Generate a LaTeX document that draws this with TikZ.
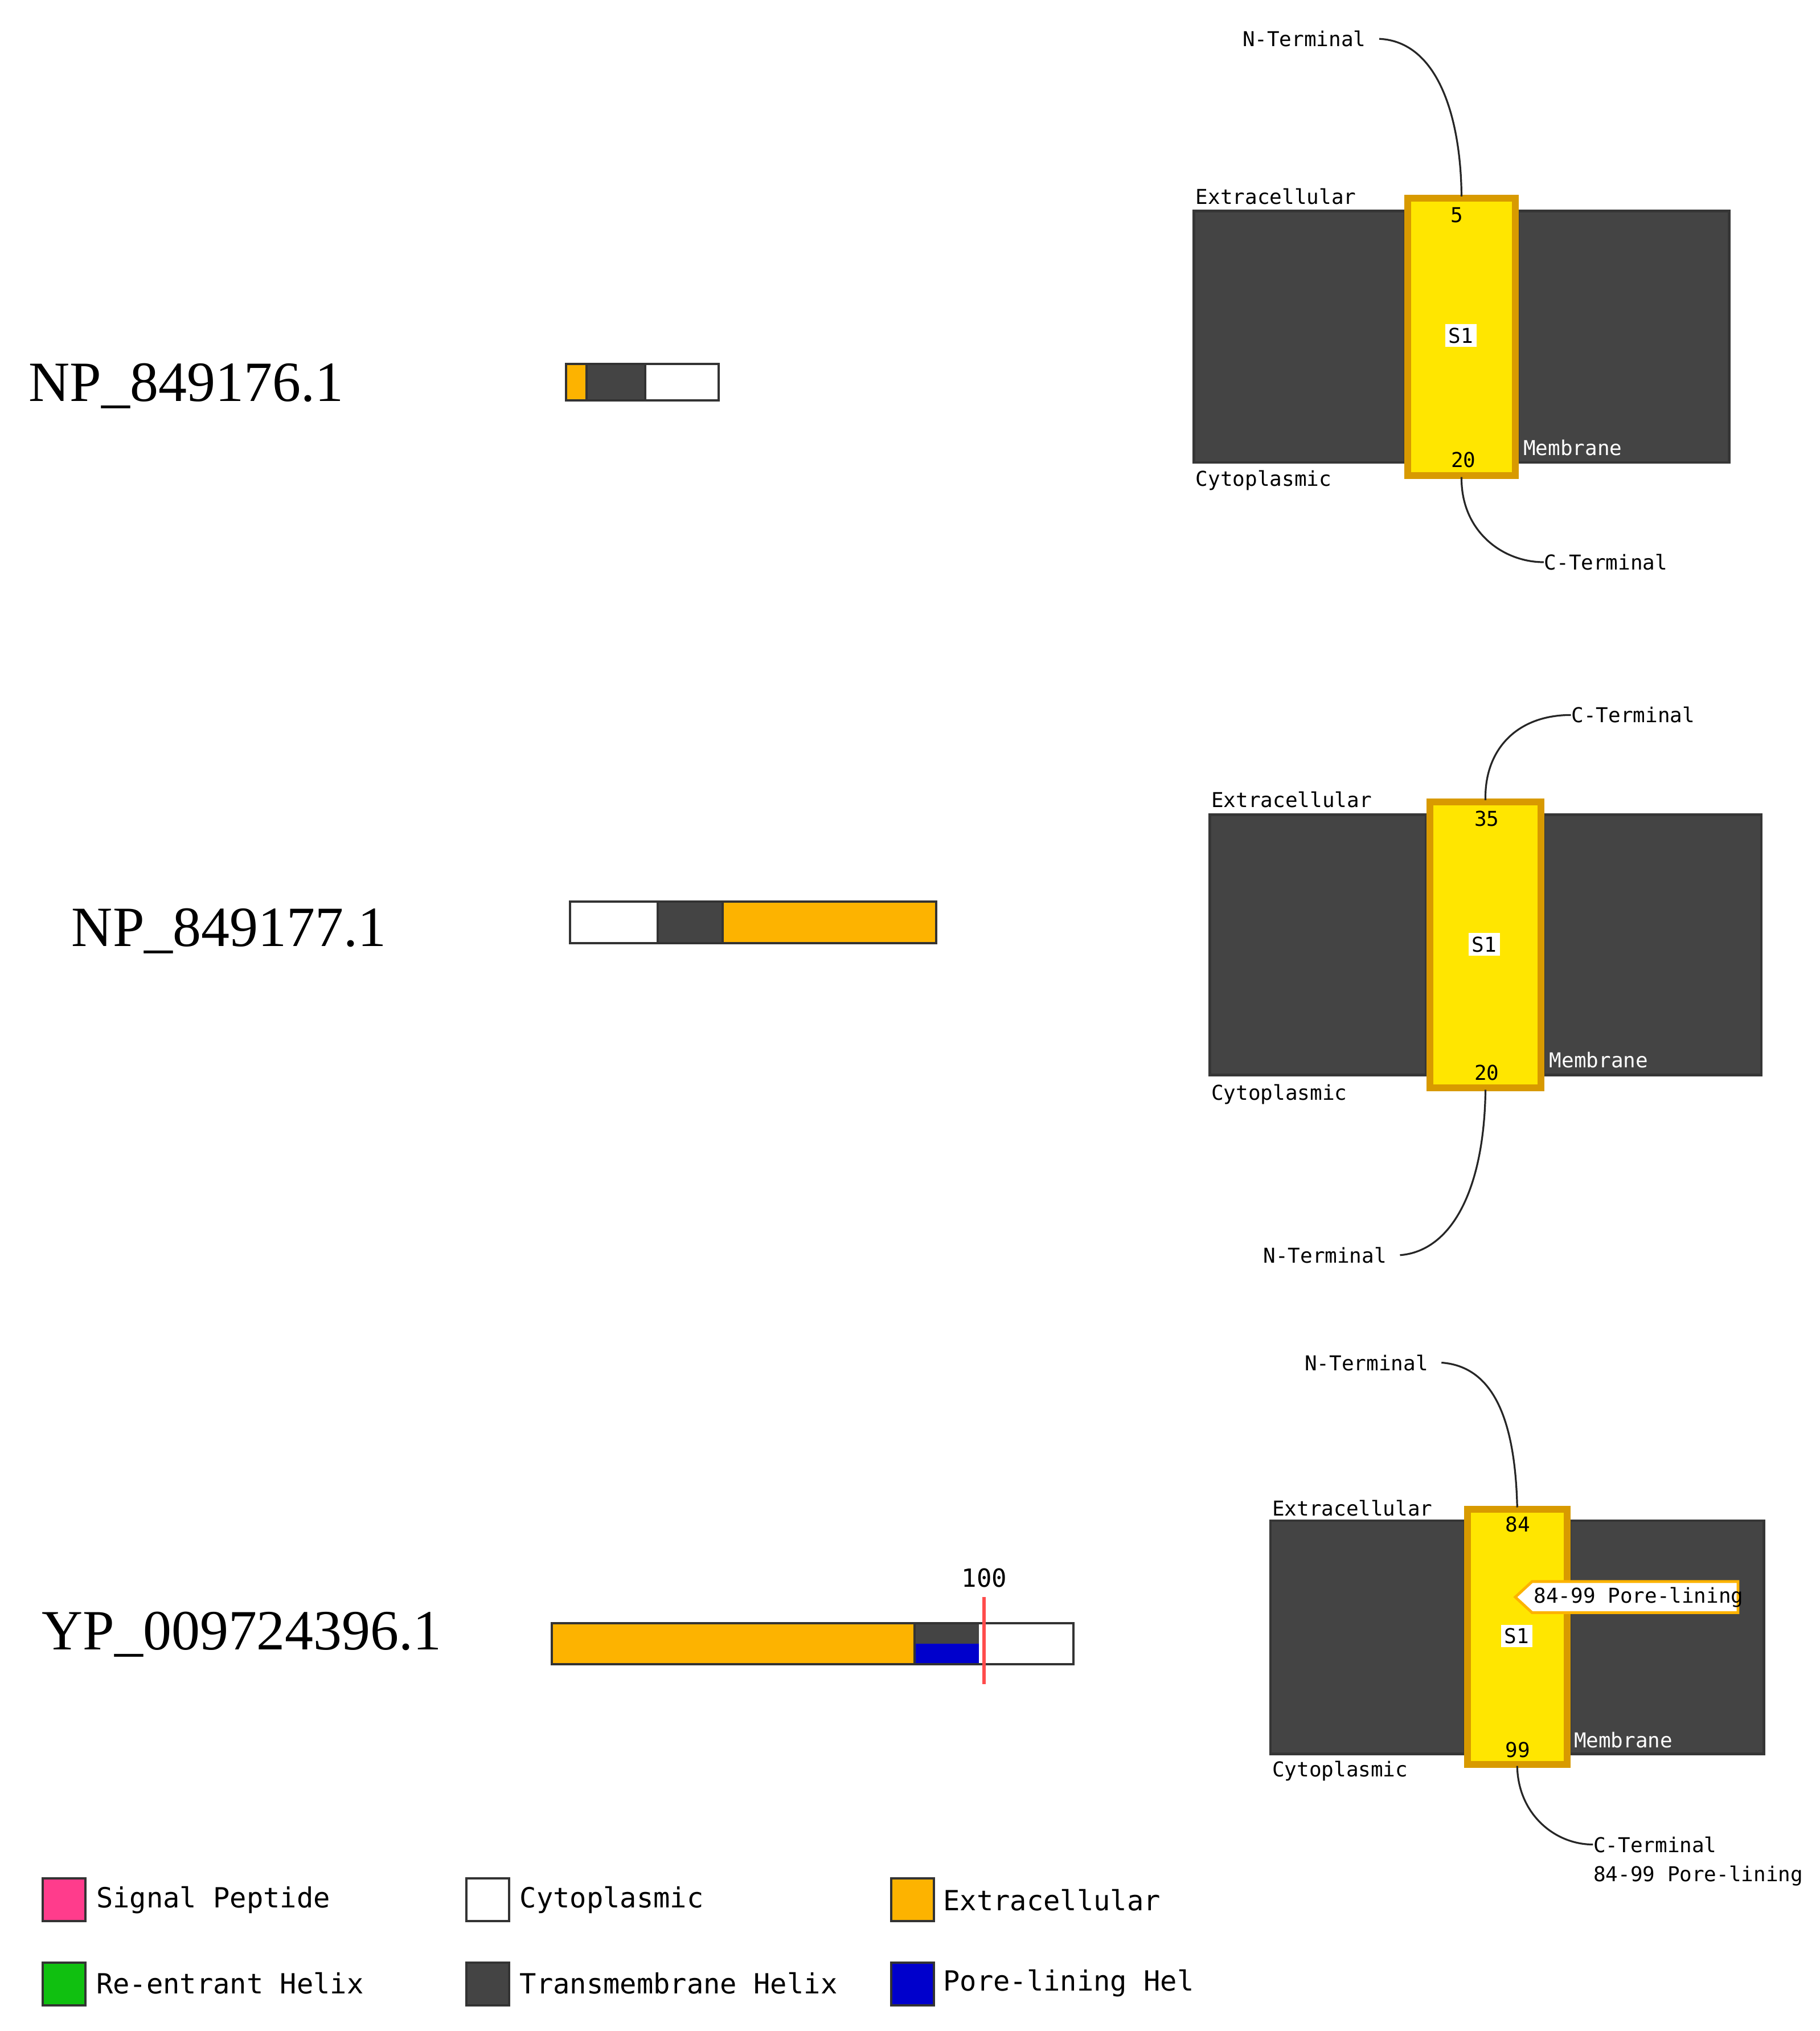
\documentclass[tikz,border=0pt]{standalone}
\usepackage{fontspec}
\setmainfont{Liberation Serif}
\newfontfamily\mono{DejaVu Sans Mono}
\usetikzlibrary{shapes.symbols}
\definecolor{mdark}{HTML}{444444}
\definecolor{morange}{HTML}{FDB300}
\definecolor{myellow}{HTML}{FFE600}
\definecolor{mborder}{HTML}{D89A00}
\definecolor{mpink}{HTML}{FF3C8C}
\definecolor{mgreen}{HTML}{10C010}
\definecolor{mblue}{HTML}{0000CC}
\tikzset{
  mem/.style={fill=mdark,draw=mdark!80!black,line width=1.2pt},
  helix/.style={fill=myellow,draw=mborder,line width=1.5pt,double=gray!60,double distance=0pt},
  sm/.style={font=\mono\fontsize{9}{10}\selectfont,inner sep=0pt},
  smw/.style={sm,text=white},
  s1/.style={sm,fill=white,inner sep=1.5pt},
  term/.style={draw=black!85,line width=0.8pt},
  pname/.style={font=\fontsize{25}{28}\selectfont,inner sep=0pt},
  bar/.style={draw=black!80,line width=1pt},
  leg/.style={draw=black!80,line width=1pt},
  legt/.style={font=\mono\fontsize{12.2}{14}\selectfont,anchor=west,inner sep=0pt},
}
\begin{document}
\begin{tikzpicture}[x=0.02cm,y=-0.02cm]
\useasboundingbox (0,0) rectangle (1405,1568);
% ---------- Panel 1
\fill[mem] (922,163) rectangle (1085,357);
\fill[mem] (1172,163) rectangle (1335,357);
\draw[mem] (922,163) rectangle (1085,357);
\draw[mem] (1172,163) rectangle (1335,357);
\node[helix,minimum width=83*0.02cm,minimum height=214*0.02cm,inner sep=0pt] (h1) at (1128.5,260) {};
\node[sm] at (1125,166) {5};
\node[s1] at (1128,259) {S1};
\node[sm] at (1130,355) {20};
\node[sm,anchor=south west] at (923,158) {Extracellular};
\node[sm,anchor=north west] at (923,363) {Cytoplasmic};
\node[smw,anchor=south west] at (1176,352) {Membrane};
\node[sm,anchor=east] (n1) at (1055,30) {N-Terminal};
\node[sm,anchor=west] (c1) at (1192,434) {C-Terminal};
\draw[term] (n1.east) ++(10,0) .. controls (1110,32) and (1128,90) .. (h1.north);
\draw[term] (h1.south) .. controls (1128,410) and (1160,434) .. (c1.west);
% ---------- Panel 2
\draw[mem] (934,629) rectangle (1101,830);
\draw[mem] (1192,629) rectangle (1360,830);
\node[helix,minimum width=86*0.02cm,minimum height=221*0.02cm,inner sep=0pt] (h2) at (1147,729.5) {};
\node[sm] at (1148,632) {35};
\node[s1] at (1146,729) {S1};
\node[sm] at (1148,828) {20};
\node[sm,anchor=south west] at (935,624) {Extracellular};
\node[sm,anchor=north west] at (935,837) {Cytoplasmic};
\node[smw,anchor=south west] at (1196,825) {Membrane};
\node[sm,anchor=west] (c2) at (1213,552) {C-Terminal};
\node[sm,anchor=east] (n2) at (1071,969) {N-Terminal};
\draw[term] (h2.north) .. controls (1146,580) and (1170,552) .. (c2.west);
\draw[term] (h2.south) .. controls (1146,920) and (1120,966) .. ([xshift=10*0.02cm]n2.east);
% ---------- Panel 3
\draw[mem] (981,1174) rectangle (1131,1354);
\draw[mem] (1212,1174) rectangle (1362,1354);
\node[helix,minimum width=77*0.02cm,minimum height=197*0.02cm,inner sep=0pt] (h3) at (1171.5,1263.5) {};
\node[sm] at (1172,1177) {84};
\node[s1] at (1171,1263) {S1};
\node[sm] at (1172,1351) {99};
\node[sm,anchor=south west] at (982,1171) {Extracellular};
\node[sm,anchor=north west] at (982,1359) {Cytoplasmic};
\node[smw,anchor=south west] at (1215,1350) {Membrane};
\fill[white,draw=morange,line width=1.2pt] (1170,1233) -- (1183,1221) -- (1342,1221) -- (1342,1245) -- (1183,1245) -- cycle;
\node[sm,anchor=west] (pl) at (1184,1233) {84-99 Pore-lining};
\node[sm,anchor=east] (n3) at (1103,1052) {N-Terminal};
\node[sm,anchor=west] (c3) at (1230,1424) {C-Terminal};
\node[sm,anchor=west] at (1230,1448) {84-99 Pore-lining};
\draw[term] (n3.east) ++(10,0) .. controls (1155,1055) and (1170,1100) .. (h3.north);
\draw[term] (h3.south) .. controls (1172,1400) and (1200,1424) .. (c3.west);
% ---------- Names
\node[pname,anchor=west] at (22,298) {NP\_849176.1};
\node[pname,anchor=west] at (55,719) {NP\_849177.1};
\node[pname,anchor=west] at (32,1262) {YP\_009724396.1};
% ---------- Bars
\fill[morange] (437,281) rectangle (453,309);
\fill[mdark] (453,281) rectangle (498,309);
\fill[white] (498,281) rectangle (555,309);
\draw[bar] (437,281) rectangle (555,309) (453,281) -- (453,309) (498,281) -- (498,309);
\fill[white] (440,696) rectangle (508,728);
\fill[mdark] (508,696) rectangle (558,728);
\fill[morange] (558,696) rectangle (723,728);
\draw[bar] (440,696) rectangle (723,728) (508,696) -- (508,728) (558,696) -- (558,728);
\fill[morange] (426,1253) rectangle (706,1285);
\fill[mdark] (706,1253) rectangle (756,1269);
\fill[mblue] (706,1269) rectangle (756,1285);
\fill[white] (756,1253) rectangle (829,1285);
\draw[bar] (426,1253) rectangle (829,1285) (706,1253) -- (706,1285);
\draw[red!70,line width=1.5pt] (760,1233) -- (760,1300);
\node[font=\mono\fontsize{11}{12}\selectfont,inner sep=0pt] at (760,1218) {100};
% ---------- Legend
\draw[leg,fill=mpink] (33,1450) rectangle (66,1483);
\draw[leg,fill=white] (360,1450) rectangle (393,1483);
\draw[leg,fill=morange] (688,1450) rectangle (721,1483);
\draw[leg,fill=mgreen] (33,1515) rectangle (66,1548);
\draw[leg,fill=mdark] (360,1515) rectangle (393,1548);
\draw[leg,fill=mblue] (688,1515) rectangle (721,1548);
\node[legt] at (74,1467) {Signal Peptide};
\node[legt] at (401,1467) {Cytoplasmic};
\node[legt] at (728,1467) {Extracellular};
\node[legt] at (74,1531) {Re-entrant Helix};
\node[legt] at (401,1531) {Transmembrane Helix};
\node[legt] at (728,1531) {Pore-lining Hel};
\end{tikzpicture}
\end{document}
